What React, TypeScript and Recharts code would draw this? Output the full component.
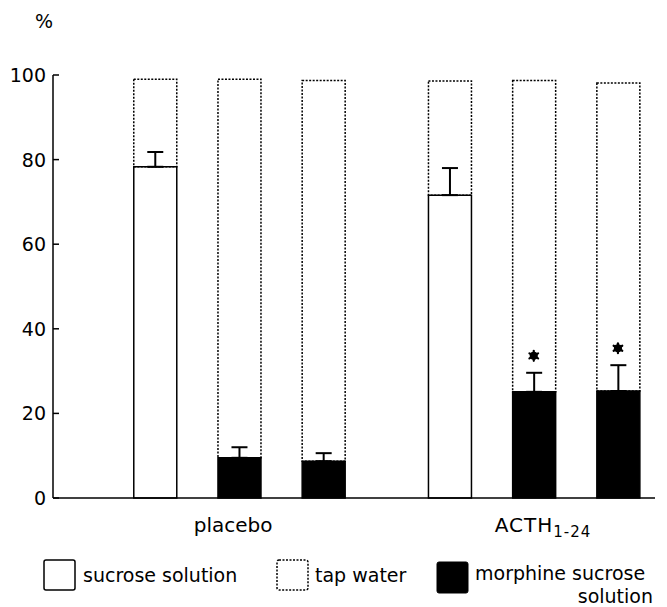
import { ComposedChart, Bar, ErrorBar, Scatter, XAxis, YAxis, Label } from 'recharts';

// groups and bars per group
const groups = ['placebo', 'ACTH'];
const groupSub = ['', '1-24'];
const barsPerGroup = 3;

// percentages per bar (placebo x3, ACTH x3)
const sucrose = [78.3, 0, 0, 71.6, 0, 0];
const sucroseSem = [3.5, null, null, 6.4, null, null];
const morphine = [0, 9.5, 8.7, 0, 25.1, 25.3];
const morphineSem = [null, 2.5, 1.9, null, 4.5, 6.1];
const tapWater = [20.7, 89.5, 90, 27, 73.6, 72.8];
const significant = [false, false, false, false, true, true];

const yTicks = [0, 20, 40, 60, 80, 100];

const FONT = 'DejaVu Sans, sans-serif';

const data = sucrose.map((s, i) => {
  const g = Math.floor(i / barsPerGroup);
  const k = i % barsPerGroup;
  const mSem = morphineSem[i];
  const sSem = sucroseSem[i];
  return {
    pos: g * 7 + k * 2 + 2,
    sucrose: s,
    sucroseErr: sSem == null ? null : [0, sSem],
    morphine: morphine[i],
    morphineErr: mSem == null ? null : [0, mSem],
    tapWater: tapWater[i],
    star: significant[i] ? morphine[i] + (mSem || 0) + 4 : null,
  };
});

const groupTicks = groups.map((_, g) => g * 7 + 4);

const YTick = ({ x, y, payload }: any) => (
  <g>
    <line x1={x} x2={x + 6} y1={y} y2={y} stroke="#000" strokeWidth={1.5} />
    <text x={x - 7} y={y + 7} textAnchor="end" fontSize={19} fontFamily={FONT} fill="#000">
      {payload.value}
    </text>
  </g>
);

const GroupTick = ({ x, y, index }: any) => {
  if (index === 0) {
    return (
      <text x={x - 6} y={y + 34} textAnchor="middle" fontSize={20} fontFamily={FONT} fill="#000">
        {groups[0]}
      </text>
    );
  }
  return (
    <text x={x - 39} y={y + 34} textAnchor="start" fontSize={20} fontFamily={FONT} fill="#000" letterSpacing={1}>
      <tspan>{groups[1]}</tspan>
      <tspan dy={5} fontSize={15}>{groupSub[1]}</tspan>
    </text>
  );
};

const StarShape = (props: any) => {
  const { cx, cy, payload } = props;
  if (payload.star == null) return <g />;
  const r = 5;
  return (
    <g stroke="#000" strokeWidth={2.2} strokeLinecap="round">
      {[0, 60, 120].map((a) => {
        const rad = (a * Math.PI) / 180;
        return (
          <line
            key={a}
            x1={cx - r * Math.sin(rad)}
            y1={cy - r * Math.cos(rad)}
            x2={cx + r * Math.sin(rad)}
            y2={cy + r * Math.cos(rad)}
          />
        );
      })}
      <circle cx={cx} cy={cy} r={3} fill="#000" />
    </g>
  );
};

const Legend = () => (
  <svg width={667} height={607} style={{ position: 'absolute', left: 0, top: 0, pointerEvents: 'none' }}>
    <g fontFamily={FONT} fontSize={19} fill="#000">
      <rect x={44} y={560} width={31} height={30} rx={2} fill="#fff" stroke="#000" strokeWidth={1.5} />
      <text x={83} y={582}>sucrose solution</text>
      <rect x={277} y={560} width={31} height={30} rx={2} fill="#fff" stroke="#000" strokeWidth={1.5} strokeDasharray="2 1.5" />
      <text x={315} y={582}>tap water</text>
      <rect x={437} y={562} width={31} height={31} rx={2} fill="#000" stroke="#000" />
      <text x={475} y={580}>morphine sucrose</text>
      <text x={653} y={603} textAnchor="end">solution</text>
    </g>
  </svg>
);

export default function App() {
  return (
    <div style={{ position: 'absolute', left: 0, top: 0, width: 667, height: 607, background: '#fff' }}>
      <ComposedChart
        width={667}
        height={607}
        data={data}
        margin={{ top: 75, right: 12, bottom: 69, left: 0 }}
      >
        <XAxis
          dataKey="pos"
          type="number"
          domain={[-0.42, 13.88]}
          ticks={groupTicks}
          tick={<GroupTick />}
          tickLine={false}
          tickSize={0}
          tickMargin={0}
          height={40}
          axisLine={{ stroke: '#000', strokeWidth: 1.5 }}
          allowDataOverflow
        />
        <YAxis
          type="number"
          domain={[0, 100]}
          ticks={yTicks}
          tick={<YTick />}
          tickLine={false}
          tickSize={0}
          tickMargin={0}
          width={53}
          axisLine={{ stroke: '#000', strokeWidth: 1.5 }}
        >
          <Label
            content={() => (
              <text x={44} y={28} textAnchor="middle" fontSize={19} fontFamily={FONT} fill="#000">
                %
              </text>
            )}
          />
        </YAxis>
        <Bar dataKey="sucrose" stackId="a" barSize={43} fill="#fff" stroke="#000" strokeWidth={1.5} isAnimationActive={false}>
          <ErrorBar dataKey="sucroseErr" width={8} stroke="#000" strokeWidth={2} direction="y" />
        </Bar>
        <Bar dataKey="morphine" stackId="a" barSize={43} fill="#000" stroke="#000" strokeWidth={1.5} isAnimationActive={false}>
          <ErrorBar dataKey="morphineErr" width={8} stroke="#000" strokeWidth={2} direction="y" />
        </Bar>
        <Bar
          dataKey="tapWater"
          stackId="a"
          barSize={43}
          fill="none"
          stroke="#000"
          strokeWidth={1.5}
          strokeDasharray="2 1.5"
          isAnimationActive={false}
        />
        <Scatter dataKey="star" shape={<StarShape />} isAnimationActive={false} />
      </ComposedChart>
      <Legend />
    </div>
  );
}
